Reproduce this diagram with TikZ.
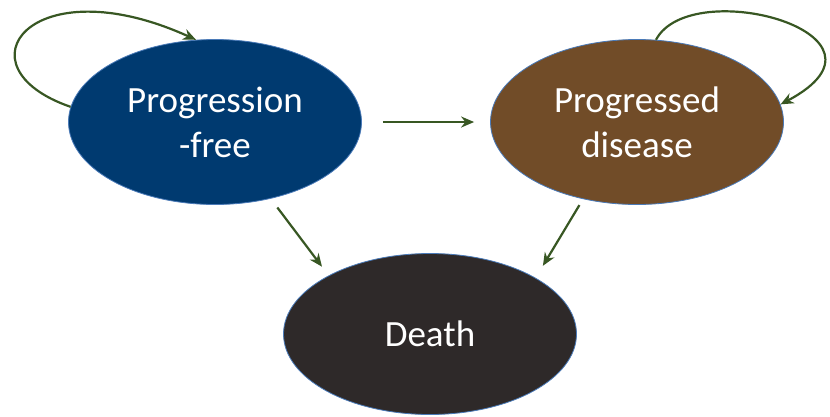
\documentclass[tikz,border=0pt]{standalone}
\usepackage{fontspec}
\setmainfont{Carlito}
\usepackage{xcolor}
\usepackage{tikz}
\usetikzlibrary{shapes.geometric,arrows.meta}

\definecolor{pfblue}{HTML}{003A70}
\definecolor{pdbrown}{HTML}{714C28}
\definecolor{deathgray}{HTML}{2E2929}
\definecolor{rimblue}{HTML}{4A7AB8}
\definecolor{arrowgreen}{HTML}{385723}

\begin{document}
\begin{tikzpicture}[
    x=1pt, y=-1pt,
    state/.style={ellipse, draw=rimblue, line width=0.8pt, inner sep=0pt, minimum width=293pt, minimum height=165pt, align=center, text=white, font=\fontsize{37}{45}\selectfont},
    arrow/.style={-{Stealth[length=13pt,width=11pt]}, line width=2.2pt, draw=arrowgreen}
]
\useasboundingbox (0,0) rectangle (830,416);

% States
\node[state, fill=pfblue] (pf) at (215,122) {Progression\\-free};
\node[state, fill=pdbrown] (pd) at (637,122) {Progressed\\disease};
\node[state, fill=deathgray, minimum width=293pt, minimum height=161pt] (death) at (430,334) {Death};

% Self loops
\draw[arrow] (pf.174) .. controls +(-116,-40) and +(-165,-75) .. (pf.103);
\draw[arrow] (pd.77) .. controls +(35,-66) and +(132,-70) .. (pd.7);

% Transitions
\draw[arrow, shorten <=21pt, shorten >=16pt] (pf) -- (pd);
\draw[arrow, shorten <=11pt, shorten >=11pt] (pf.-54) -- (death.150);
\draw[arrow, shorten <=7pt, shorten >=14pt] (pd.-125) -- (death.28);

\end{tikzpicture}
\end{document}
